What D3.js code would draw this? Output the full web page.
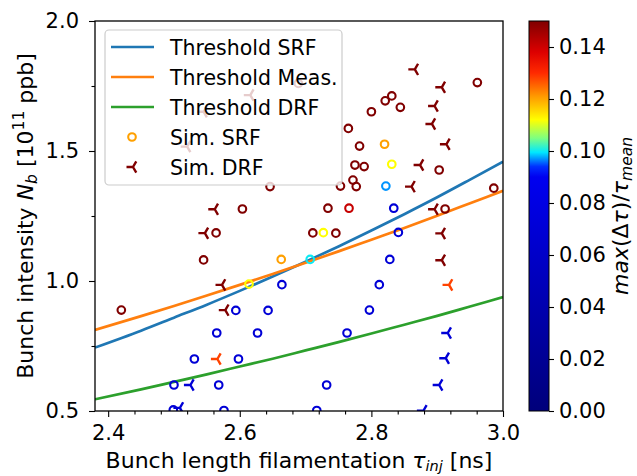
<!DOCTYPE html>
<html><head><meta charset="utf-8">
<script src="https://cdn.jsdelivr.net/npm/d3@7"></script>
<style>
body{margin:0;background:#fff}
text{font-family:"DejaVu Sans",sans-serif;fill:#000}
</style></head>
<body><svg id="chart" width="637" height="476"></svg>
<script>
// ---------- data ----------
const curveTau  = [2.38, 2.45, 2.50, 2.55, 2.60, 2.65, 2.70, 2.75, 2.80, 2.85, 2.90, 2.95, 3.00];
const thrSRF    = [0.744, 0.809, 0.859, 0.909, 0.962, 1.017, 1.074, 1.133, 1.194, 1.257, 1.322, 1.390, 1.459];
const thrMeas   = [0.812, 0.865, 0.904, 0.944, 0.985, 1.027, 1.070, 1.114, 1.159, 1.204, 1.251, 1.299, 1.347];
const thrDRF    = [0.545, 0.583, 0.612, 0.641, 0.671, 0.701, 0.733, 0.765, 0.798, 0.832, 0.866, 0.902, 0.938];

const srfTau = [2.499,2.576,2.717,2.500,2.568,2.732,2.531,2.598,2.565,2.627,2.763,2.594,2.643,2.797,2.664,2.812,2.828,2.841,2.834,
  2.822,2.707,2.614,2.727,2.831,2.663,2.820,2.766,
  2.420,2.545,2.564,2.604,2.646,2.689,2.711,2.746,2.734,2.753,2.772,2.777,2.765,2.782,2.775,2.789,2.800,2.821,2.831,2.844,2.903,2.912,2.961,2.986];
const srfN = [0.504,0.502,0.502,0.600,0.600,0.600,0.700,0.700,0.800,0.800,0.800,0.887,0.887,0.888,0.986,0.986,1.083,1.187,1.280,
  1.365,1.083,0.988,1.186,1.449,1.083,1.526,1.280,
  0.888,1.081,1.185,1.277,1.363,1.760,1.185,1.184,1.280,1.365,1.388,1.363,1.587,1.519,1.446,1.440,1.651,1.693,1.712,1.668,1.427,1.277,1.763,1.357];
const srfVal = [0.07,0.07,0.07,0.07,0.07,0.07,0.07,0.07,0.07,0.07,0.07,0.07,0.07,0.07,0.07,0.07,0.07,0.07,0.07,
  0.097,0.100,0.112,0.112,0.112,0.1205,0.1205,0.141,
  0.15,0.15,0.15,0.15,0.15,0.15,0.15,0.15,0.15,0.15,0.15,0.15,0.15,0.15,0.15,0.15,0.15,0.15,0.15,0.15,0.15,0.15,0.15,0.15];

const drfTau = [2.525,2.509,2.916,2.913,2.903,2.879,
  2.566,2.918,
  2.573,2.578,2.547,2.562,2.520,2.545,2.616,2.866,2.907,2.896,2.892,2.914,2.874,2.861,2.896,2.907,2.907];
const drfN = [0.600,0.512,0.800,0.703,0.600,0.501,
  0.700,0.985,
  0.985,0.888,1.184,1.276,1.517,1.651,1.715,1.814,1.745,1.673,1.604,1.526,1.446,1.363,1.276,1.183,1.080];
const drfVal = [0.07,0.07,0.07,0.07,0.07,0.07,
  0.128,0.128,
  0.15,0.15,0.15,0.15,0.15,0.15,0.15,0.15,0.15,0.15,0.15,0.15,0.15,0.15,0.15,0.15,0.15];

const cmapStops  = [0, 0.09, 0.094, 0.0995, 0.105, 0.112, 0.121, 0.13, 0.138, 0.15];
const cmapColors = ["#00007a","#0000f0","#0030ff","#00e8ff","#7fff7f","#ffff00","#ff9a00","#ff2a00","#dd0000","#800000"];

const xTicks = [2.4, 2.6, 2.8, 3.0];
const xMinor = [2.44, 2.48, 2.52, 2.56, 2.64, 2.68, 2.72, 2.76, 2.84, 2.88, 2.92, 2.96];
const yTicks = [0.5, 1.0, 1.5, 2.0];
const yMinor = [0.75, 1.25, 1.75];
const cbTicks = [0, 0.02, 0.04, 0.06, 0.08, 0.10, 0.12, 0.14];
const lineNames = ["Threshold SRF", "Threshold Meas.", "Threshold DRF"];
const lineColors = ["#1f77b4", "#ff7f0e", "#2ca02c"];
const scatterNames = ["Sim. SRF", "Sim. DRF"];

// ---------- layout ----------
const L = 95, R = 503, T = 21, B = 411;
const svg = d3.select("#chart");
const x = d3.scaleLinear().domain([2.38, 3.0]).range([L, R]);
const y = d3.scaleLinear().domain([0.5, 2.0]).range([B, T]);
const color = d3.scaleLinear().domain(cmapStops).range(cmapColors).clamp(true);

svg.append("defs").append("clipPath").attr("id","clip")
  .append("rect").attr("x",L).attr("y",T).attr("width",R-L).attr("height",B-T);

const plot = svg.append("g").attr("clip-path","url(#clip)");

// threshold curves
const series = [thrSRF, thrMeas, thrDRF];
const line = d3.line().curve(d3.curveMonotoneX);
series.forEach((s,i)=>{
  plot.append("path")
    .attr("d", line(curveTau.map((t,j)=>[x(t), y(s[j])])))
    .attr("fill","none").attr("stroke",lineColors[i]).attr("stroke-width",2.7);
});

// tri_left marker
function triLeft(s){ return `M0,0L${-s},0M0,0L${s*0.5},${-s*0.866}M0,0L${s*0.5},${s*0.866}`; }

// Sim SRF circles
plot.selectAll(".srf").data(srfTau).join("circle")
  .attr("cx",(d)=>x(d)).attr("cy",(d,i)=>y(srfN[i])).attr("r",3.8)
  .attr("fill","none").attr("stroke",(d,i)=>color(srfVal[i])).attr("stroke-width",2.1);

// Sim DRF tri markers
plot.selectAll(".drf").data(drfTau).join("path")
  .attr("transform",(d,i)=>`translate(${x(d)},${y(drfN[i])})`)
  .attr("d",triLeft(6.5)).attr("fill","none")
  .attr("stroke",(d,i)=>color(drfVal[i])).attr("stroke-width",2.4);

// spines
svg.append("rect").attr("x",L).attr("y",T).attr("width",R-L).attr("height",B-T)
  .attr("fill","none").attr("stroke","#000").attr("stroke-width",1.3);

// axes
const fs = 21;
const gx = svg.append("g").attr("transform",`translate(0,${B})`)
  .call(d3.axisBottom(x).tickValues(xTicks).tickFormat(d3.format(".1f")).tickSize(6).tickPadding(8));
const gxm = svg.append("g").attr("transform",`translate(0,${B})`)
  .call(d3.axisBottom(x).tickValues(xMinor).tickFormat("").tickSize(3.5));
const gy = svg.append("g").attr("transform",`translate(${L},0)`)
  .call(d3.axisLeft(y).tickValues(yTicks).tickFormat(d3.format(".1f")).tickSize(6).tickPadding(10));
const gym = svg.append("g").attr("transform",`translate(${L},0)`)
  .call(d3.axisLeft(y).tickValues(yMinor).tickFormat("").tickSize(3.5));
[gx,gxm,gy,gym].forEach(g=>{
  g.select(".domain").remove();
  g.selectAll("line").attr("stroke","#000").attr("stroke-width",1.1);
  g.selectAll("text").attr("font-size",fs).attr("font-family","DejaVu Sans").attr("fill","#000");
});

// axis labels
const xl = svg.append("text").attr("x",(L+R)/2).attr("y",468).attr("text-anchor","middle").attr("font-size",22);
xl.append("tspan").text("Bunch length filamentation ");
xl.append("tspan").attr("font-style","italic").text("τ");
xl.append("tspan").attr("font-style","italic").attr("font-size",14.5).attr("dy",3).text("inj");
xl.append("tspan").attr("dy",-3).text(" [ns]");

const yl = svg.append("text").attr("transform",`translate(33,${(T+B)/2}) rotate(-90)`)
  .attr("text-anchor","middle").attr("font-size",22);
yl.append("tspan").text("Bunch intensity ");
yl.append("tspan").attr("font-style","italic").text("N");
yl.append("tspan").attr("font-style","italic").attr("font-size",15.5).attr("dy",4).text("b");
yl.append("tspan").attr("dy",-4).text(" [10");
yl.append("tspan").attr("font-size",15.5).attr("dy",-9).text("11");
yl.append("tspan").attr("dy",9).text(" ppb]");

// legend
const lg = svg.append("g");
lg.append("rect").attr("x",105).attr("y",30).attr("width",237).attr("height",155).attr("rx",4)
  .attr("fill","#fff").attr("fill-opacity",0.8).attr("stroke","#cccccc").attr("stroke-width",1.2);
const rowY = i => 47 + 30*i;
lineNames.forEach((n,i)=>{
  lg.append("line").attr("x1",111).attr("x2",154).attr("y1",rowY(i)).attr("y2",rowY(i))
    .attr("stroke",lineColors[i]).attr("stroke-width",2.7);
  lg.append("text").attr("x",170).attr("y",rowY(i)+7.5).attr("font-size",20.5).text(n);
});
lg.append("circle").attr("cx",132).attr("cy",rowY(3)).attr("r",3.8).attr("fill","none")
  .attr("stroke",color(0.1205)).attr("stroke-width",2.1);
lg.append("path").attr("transform",`translate(133,${rowY(4)})`).attr("d",triLeft(6.5))
  .attr("fill","none").attr("stroke",color(0.15)).attr("stroke-width",2.4);
scatterNames.forEach((n,i)=>{
  lg.append("text").attr("x",170).attr("y",rowY(3+i)+7.5).attr("font-size",20.5).text(n);
});

// colorbar
const CL = 529, CR = 549;
const cb = d3.scaleLinear().domain([0,0.15]).range([B, T]);
const grad = svg.select("defs").append("linearGradient").attr("id","cbgrad")
  .attr("x1",0).attr("y1",1).attr("x2",0).attr("y2",0);
cmapStops.forEach((s,i)=>grad.append("stop").attr("offset",s/0.15).attr("stop-color",cmapColors[i]));
svg.append("rect").attr("x",CL).attr("y",T).attr("width",CR-CL).attr("height",B-T)
  .attr("fill","url(#cbgrad)").attr("stroke","#000").attr("stroke-width",1);
const gc = svg.append("g").attr("transform",`translate(${CR},0)`)
  .call(d3.axisRight(cb).tickValues(cbTicks).tickFormat(d3.format(".2f")).tickSize(5).tickPadding(5));
gc.select(".domain").remove();
gc.selectAll("line").attr("stroke","#000").attr("stroke-width",1.1);
gc.selectAll("text").attr("font-size",fs).attr("font-family","DejaVu Sans").attr("fill","#000");

const cl = svg.append("text").attr("transform",`translate(628,${(T+B)/2}) rotate(-90)`)
  .attr("text-anchor","middle").attr("font-size",22);
cl.append("tspan").attr("font-style","italic").text("max");
cl.append("tspan").text("(Δ");
cl.append("tspan").attr("font-style","italic").text("τ");
cl.append("tspan").text(")/");
cl.append("tspan").attr("font-style","italic").text("τ");
cl.append("tspan").attr("font-style","italic").attr("font-size",15.5).attr("dy",4).text("mean");
</script>
</body></html>
